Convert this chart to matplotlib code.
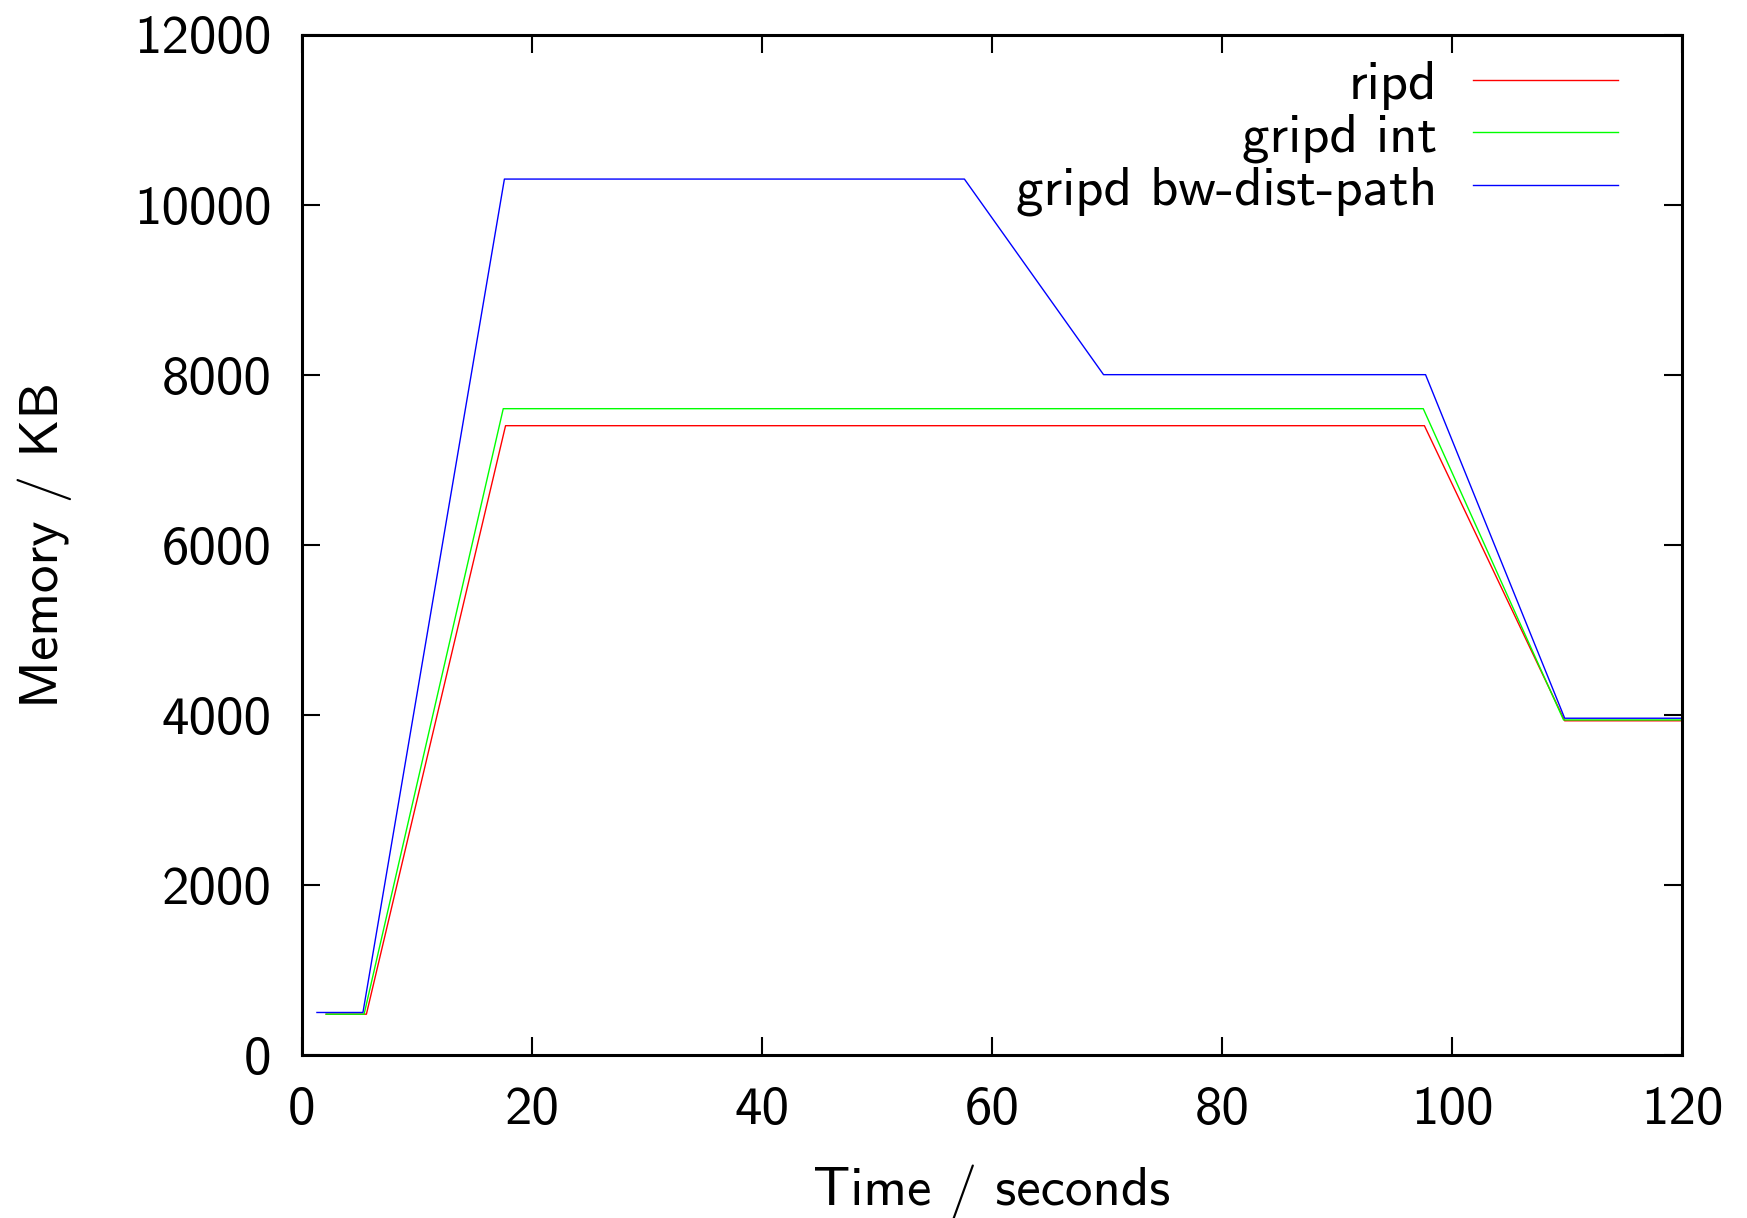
import matplotlib
matplotlib.use("Agg")
import matplotlib.pyplot as plt

# Data
ripd_x = [2.1, 5.6, 17.7, 97.6, 109.8, 120]
ripd_y = [480, 480, 7400, 7400, 3930, 3930]
gint_x = [2.1, 5.4, 17.5, 97.5, 109.7, 120]
gint_y = [480, 480, 7600, 7600, 3940, 3940]
gbw_x = [1.3, 5.3, 17.6, 57.6, 69.7, 97.7, 109.8, 120]
gbw_y = [500, 500, 10300, 10300, 8000, 8000, 3960, 3960]

labels = ["ripd", "gripd int", "gripd bw-dist-path"]
colors = ["#ff0000", "#00ff00", "#0000ff"]
xticks = [0, 20, 40, 60, 80, 100, 120]
yticks = [0, 2000, 4000, 6000, 8000, 10000, 12000]

plt.rcParams['font.family'] = ['cmss10', 'DejaVu Sans']
plt.rcParams['axes.unicode_minus'] = False
FS = 39.5

fig = plt.figure(figsize=(17.47, 12.18), dpi=100)
ax = fig.add_axes([302/1747, 1-1055/1218, 1380/1747, (1055-34.5)/1218])

lw = 1.0
ax.plot(ripd_x, ripd_y, color=colors[0], lw=lw, label=labels[0])
ax.plot(gint_x, gint_y, color=colors[1], lw=lw, label=labels[1])
ax.plot(gbw_x, gbw_y, color=colors[2], lw=lw, label=labels[2])

ax.set_xlim(0, 120)
ax.set_ylim(0, 12000)
ax.set_xticks(xticks)
ax.set_yticks(yticks)
ax.tick_params(direction='in', length=13, width=1.5, top=True, right=True,
               labelsize=FS, pad=22)
for s in ax.spines.values():
    s.set_linewidth(2.2)

ax.set_xlabel("Time / seconds", fontsize=FS)
ax.set_ylabel("Memory / KB", fontsize=FS)
ax.xaxis.set_label_coords(0.5, (1055-1192)/1020)
ax.xaxis.label.set_va('center')
ax.yaxis.set_label_coords((44.6-302)/1380, 0.5)
ax.yaxis.label.set_va('center')

leg = ax.legend(loc='upper right', markerfirst=False, frameon=False,
                fontsize=FS, handlelength=2.64, handletextpad=0.65,
                labelspacing=0.05, borderaxespad=0, borderpad=0,
                bbox_to_anchor=(0.9536, 0.974))

fig.savefig("out.png", dpi=100)
